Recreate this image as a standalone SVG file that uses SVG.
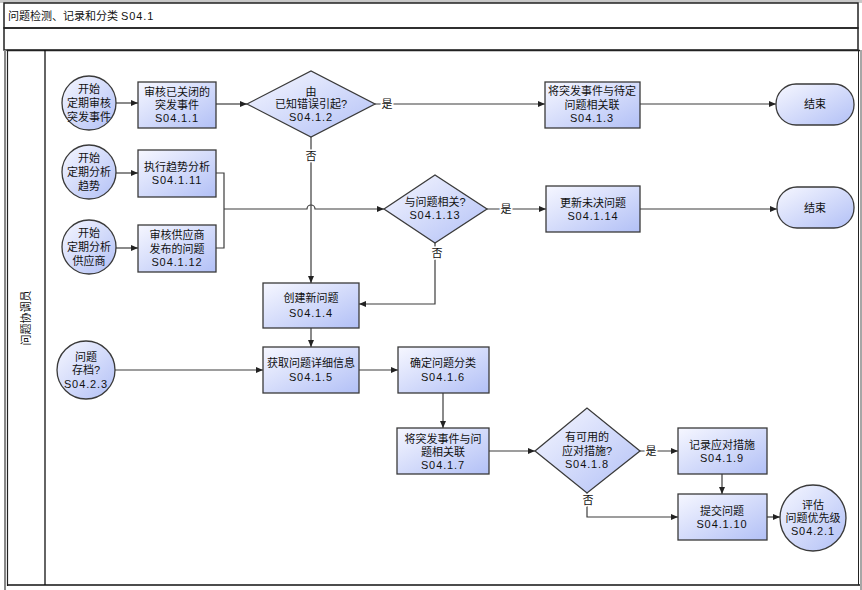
<svg xmlns="http://www.w3.org/2000/svg" width="862" height="590" viewBox="0 0 862 590">
<style>
text{font-family:"Liberation Sans","Noto Sans CJK SC",sans-serif;font-size:11px;fill:#111;text-anchor:middle}
.t{text-anchor:start}
.n{letter-spacing:0.9px}
.node{fill:url(#g);stroke:#3a3a3a;stroke-width:1.3}
.c{fill:none;stroke:#3c3c3c;stroke-width:1.2}
.a{marker-end:url(#arr)}
.lbl{paint-order:stroke;stroke:#fff;stroke-width:3px}
.frame{fill:none;stroke:#222;stroke-width:1.5}
</style>
<defs>
<linearGradient id="g" x1="0" y1="0" x2="1" y2="1">
<stop offset="0" stop-color="#f6f7ff"/>
<stop offset="1" stop-color="#b2c0f6"/>
</linearGradient>
<marker id="arr" markerWidth="7" markerHeight="6" refX="7" refY="3" orient="auto" markerUnits="userSpaceOnUse">
<path d="M0,0 L7,3 L0,6 z" fill="#222"/>
</marker>
</defs>
<rect width="862" height="590" fill="#fff"/>
<g id="frame">
<rect x="0" y="0" width="862" height="3" fill="#c8c8c8"/>
<rect x="4" y="3" width="854" height="25" class="frame"/>
<text class="t" x="8" y="20">问题检测、记录和分类 <tspan class="n">S04.1</tspan></text>
<rect x="4" y="28" width="854" height="22" class="frame"/>
<line x1="5" y1="50" x2="5" y2="590" stroke="#888" stroke-width="2"/>
<line x1="7.5" y1="50" x2="7.5" y2="586" stroke="#222" stroke-width="1.2"/>
<line x1="7" y1="50.5" x2="860" y2="50.5" stroke="#222" stroke-width="1.5"/>
<line x1="45" y1="50" x2="45" y2="585" stroke="#111" stroke-width="1.3"/>
<line x1="7" y1="585" x2="860" y2="585" stroke="#111" stroke-width="1.3"/>
<line x1="858.5" y1="50" x2="858.5" y2="585" stroke="#222" stroke-width="1"/>
<line x1="861" y1="50" x2="861" y2="590" stroke="#888" stroke-width="1.5"/>
<text transform="translate(30,318) rotate(-90)" font-size="10.5">问题协调员</text>
</g>
<g id="connectors">
<path class="c a" d="M116,103 H138"/>
<path class="c a" d="M216,104 H247"/>
<path class="c a" d="M375,104 H545"/>
<path class="c a" d="M640,104 H776"/>
<path class="c a" d="M311,137 V283"/>
<path class="c a" d="M116,173 H138"/>
<path class="c a" d="M116,248 H138"/>
<path class="c" d="M216,173 H224 V248 H216" stroke="#777"/>
<path class="c a" d="M224,209 H307 a4,4 0 0 1 8,0 H384"/>
<path class="c a" d="M487,209 H546"/>
<path class="c a" d="M640,209 H777"/>
<path class="c a" d="M435,243 V304 H359"/>
<path class="c a" d="M311,328 V347"/>
<path class="c a" d="M115,370 H263"/>
<path class="c a" d="M359,370 H398"/>
<path class="c a" d="M443,393 V428"/>
<path class="c a" d="M489,451 H535"/>
<path class="c a" d="M640,451 H678"/>
<path class="c a" d="M587,493 V517 H678"/>
<path class="c a" d="M722,474 V494"/>
<path class="c a" d="M767,517 H780"/>
<text class="lbl" x="387" y="108">是</text>
<text class="lbl" x="311" y="160">否</text>
<text class="lbl" x="506" y="213">是</text>
<text class="lbl" x="437" y="257">否</text>
<text class="lbl" x="651" y="455">是</text>
<text class="lbl" x="588" y="504">否</text>
</g>
<g id="start1">
<circle class="node" cx="89" cy="103" r="27"/>
<text x="89" y="93">开始</text><text x="89" y="107">定期审核</text><text x="89" y="121">突发事件</text>
</g>
<g id="s0411">
<rect class="node" x="138" y="82" width="78" height="46"/>
<text x="177" y="96">审核已关闭的</text><text x="177" y="109">突发事件</text><text class="n" x="177" y="122">S04.1.1</text>
</g>
<g id="s0412">
<polygon class="node" points="247,104 311,71 375,104 311,137"/>
<text x="311" y="96">由</text><text x="311" y="108">已知错误引起?</text><text class="n" x="311" y="121">S04.1.2</text>
</g>
<g id="s0413">
<rect class="node" x="545" y="82" width="95" height="46"/>
<text x="592" y="95">将突发事件与待定</text><text x="592" y="109">问题相关联</text><text class="n" x="592" y="122">S04.1.3</text>
</g>
<g id="end1">
<rect class="node" x="776" y="84" width="78" height="41" rx="20"/>
<text x="815" y="108">结束</text>
</g>
<g id="start2">
<circle class="node" cx="89" cy="172" r="27"/>
<text x="89" y="162">开始</text><text x="89" y="176">定期分析</text><text x="89" y="190">趋势</text>
</g>
<g id="s04111">
<rect class="node" x="138" y="150" width="78" height="47"/>
<text x="177" y="171">执行趋势分析</text><text class="n" x="177" y="184">S04.1.11</text>
</g>
<g id="start3">
<circle class="node" cx="89" cy="247" r="27"/>
<text x="89" y="237">开始</text><text x="89" y="251">定期分析</text><text x="89" y="265">供应商</text>
</g>
<g id="s04112">
<rect class="node" x="138" y="225" width="78" height="47"/>
<text x="177" y="239">审核供应商</text><text x="177" y="253">发布的问题</text><text class="n" x="177" y="266">S04.1.12</text>
</g>
<g id="s04113">
<polygon class="node" points="384,209 435,175 487,209 435,243"/>
<text x="435" y="206">与问题相关?</text><text class="n" x="435" y="219">S04.1.13</text>
</g>
<g id="s04114">
<rect class="node" x="546" y="186" width="94" height="46"/>
<text x="593" y="207">更新未决问题</text><text class="n" x="593" y="220">S04.1.14</text>
</g>
<g id="end2">
<rect class="node" x="777" y="187" width="77" height="41" rx="20"/>
<text x="815" y="212">结束</text>
</g>
<g id="s0414">
<rect class="node" x="263" y="283" width="96" height="45"/>
<text x="311" y="302">创建新问题</text><text class="n" x="311" y="317">S04.1.4</text>
</g>
<g id="archive">
<circle class="node" cx="86" cy="370" r="29"/>
<text x="86" y="361">问题</text><text x="86" y="374">存档?</text><text class="n" x="86" y="388">S04.2.3</text>
</g>
<g id="s0415">
<rect class="node" x="263" y="347" width="96" height="46"/>
<text x="311" y="367">获取问题详细信息</text><text class="n" x="311" y="381">S04.1.5</text>
</g>
<g id="s0416">
<rect class="node" x="398" y="347" width="91" height="46"/>
<text x="443" y="367">确定问题分类</text><text class="n" x="443" y="381">S04.1.6</text>
</g>
<g id="s0417">
<rect class="node" x="397" y="428" width="92" height="46"/>
<text x="443" y="443">将突发事件与问</text><text x="443" y="456">题相关联</text><text class="n" x="443" y="469">S04.1.7</text>
</g>
<g id="s0418">
<polygon class="node" points="535,451 587,408 640,451 587,493"/>
<text x="587" y="441">有可用的</text><text x="587" y="455">应对措施?</text><text class="n" x="587" y="468">S04.1.8</text>
</g>
<g id="s0419">
<rect class="node" x="678" y="428" width="89" height="46"/>
<text x="722" y="449">记录应对措施</text><text class="n" x="722" y="462">S04.1.9</text>
</g>
<g id="s04110">
<rect class="node" x="678" y="494" width="89" height="46"/>
<text x="722" y="515">提交问题</text><text class="n" x="722" y="528">S04.1.10</text>
</g>
<g id="eval">
<circle class="node" cx="813" cy="518" r="33"/>
<text x="813" y="509">评估</text><text x="813" y="522">问题优先级</text><text class="n" x="813" y="535">S04.2.1</text>
</g>
</svg>
